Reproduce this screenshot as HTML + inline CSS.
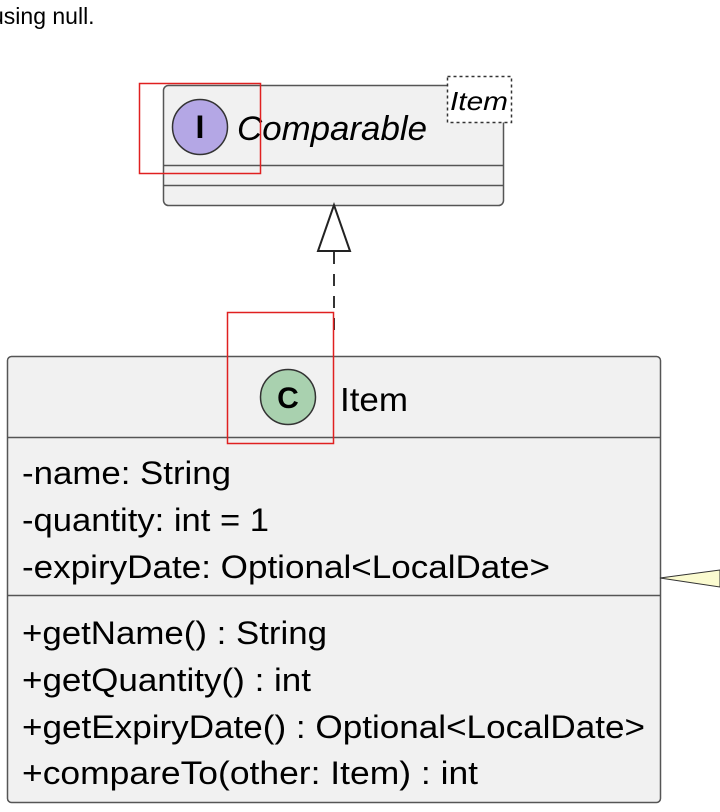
<!DOCTYPE html>
<html><head><meta charset="utf-8"><style>
html,body{margin:0;padding:0;background:#fff;width:720px;height:812px;overflow:hidden}
svg{display:block}
text{font-family:"Liberation Sans",sans-serif;fill:#000}
</style></head><body>
<svg width="720" height="812" viewBox="0 0 720 812" xmlns="http://www.w3.org/2000/svg">
<text x="-9" y="24" font-size="23" fill="#222">using null.</text>

<!-- Comparable -->
<rect x="163.5" y="85.5" width="340" height="120" rx="5" fill="#f1f1f1" stroke="#555" stroke-width="1.5"/>
<line x1="163" y1="165.5" x2="503" y2="165.5" stroke="#555" stroke-width="1.5"/>
<line x1="163" y1="185.5" x2="503" y2="185.5" stroke="#555" stroke-width="1.5"/>
<circle cx="200" cy="127" r="27.5" fill="#b4a7e5" stroke="#333" stroke-width="1.5"/>
<text x="200" y="138" font-size="32" font-weight="bold" text-anchor="middle" font-family="Liberation Mono">I</text>
<text x="237" y="140" font-size="34" font-style="italic" textLength="190" lengthAdjust="spacingAndGlyphs">Comparable</text>
<rect x="447.5" y="76.5" width="64" height="46" fill="#fff" stroke="#333" stroke-width="1.5" stroke-dasharray="3,3"/>
<text x="450" y="110" font-size="26" font-style="italic" textLength="58" lengthAdjust="spacingAndGlyphs">Item</text>

<!-- arrow -->
<line x1="334" y1="252" x2="334" y2="338" stroke="#333" stroke-width="2" stroke-dasharray="12,10"/>
<polygon points="334,205 318,251 350,251" fill="#fff" stroke="#222" stroke-width="2"/>

<!-- Item -->
<rect x="7.5" y="356.5" width="653" height="446" rx="4" fill="#f1f1f1" stroke="#555" stroke-width="1.5"/>
<line x1="7" y1="437.5" x2="660" y2="437.5" stroke="#555" stroke-width="1.5"/>
<line x1="7" y1="595.5" x2="660" y2="595.5" stroke="#555" stroke-width="1.5"/>
<circle cx="288" cy="397" r="27.5" fill="#a9d1af" stroke="#333" stroke-width="1.5"/>
<text x="288" y="408" font-size="30" font-weight="bold" text-anchor="middle">C</text>
<text x="340" y="411" font-size="33" textLength="68" lengthAdjust="spacingAndGlyphs">Item</text>

<g font-size="32">
<text x="22" y="484" textLength="209" lengthAdjust="spacingAndGlyphs">-name: String</text>
<text x="22" y="531" textLength="247" lengthAdjust="spacingAndGlyphs">-quantity: int = 1</text>
<text x="22" y="578" textLength="528" lengthAdjust="spacingAndGlyphs">-expiryDate: Optional&lt;LocalDate&gt;</text>
<text x="22" y="644" textLength="305" lengthAdjust="spacingAndGlyphs">+getName() : String</text>
<text x="22" y="691" textLength="289" lengthAdjust="spacingAndGlyphs">+getQuantity() : int</text>
<text x="22" y="738" textLength="623" lengthAdjust="spacingAndGlyphs">+getExpiryDate() : Optional&lt;LocalDate&gt;</text>
<text x="22" y="784" textLength="456" lengthAdjust="spacingAndGlyphs">+compareTo(other: Item) : int</text>
</g>

<!-- note connector -->
<polygon points="660,578 720,570 720,587" fill="#fbfbd0" stroke="#333" stroke-width="1"/>

<!-- red highlight boxes -->
<rect x="139.5" y="83.5" width="121" height="90" fill="none" stroke="#e02020" stroke-width="1.5"/>
<rect x="227.5" y="312.5" width="106" height="131" fill="none" stroke="#e02020" stroke-width="1.5"/>
</svg>
</body></html>
